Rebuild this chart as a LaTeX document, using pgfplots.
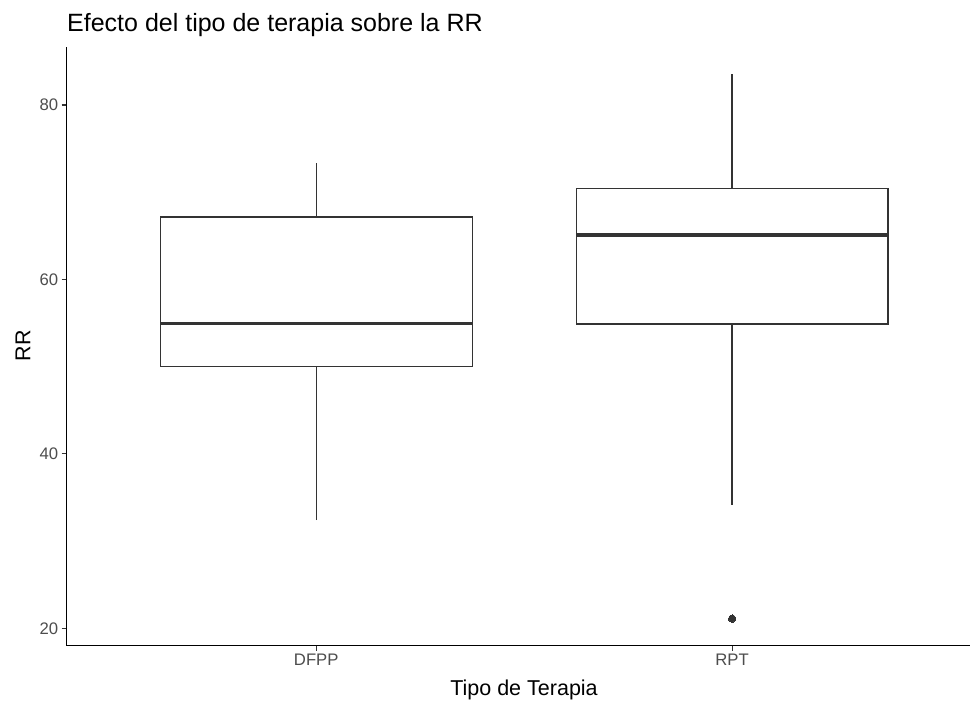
\documentclass[border=0pt]{standalone}
\usepackage{fontspec}
\setmainfont{Liberation Sans}
\usepackage{pgfplots}
\pgfplotsset{compat=1.18}
\definecolor{gtwenty}{HTML}{333333}
\definecolor{gthirty}{HTML}{4D4D4D}
\begin{document}
\begin{tikzpicture}
\useasboundingbox (0bp,0bp) rectangle (970bp,702bp);
\begin{axis}[
  at={(66.7bp,56.3bp)}, anchor=south west,
  scale only axis, width=903.3bp, height=598.7bp,
  xmin=0.4, xmax=2.572, ymin=18.0, ymax=86.65,
  axis x line*=bottom, axis y line*=left,
  xtick={1,2}, xticklabels={DFPP,RPT},
  ytick={20,40,60,80},
  tick align=outside, major tick length=5bp,
  tick style={gtwenty, line width=1.2bp},
  axis line style={black, line width=1.4bp},
  ticklabel style={font=\fontsize{16.7bp}{20bp}\selectfont, text=gthirty},
  /pgf/number format/assume math mode=true,
  clip=false,
]
% DFPP
\addplot[gtwenty, line width=1.3bp, mark=none] coordinates {(1,67.14) (1,73.3)};
\addplot[gtwenty, line width=1.3bp, mark=none] coordinates {(1,32.4) (1,50.0)};
\addplot[gtwenty, line width=1.3bp, mark=none, fill=white] coordinates {(0.625,50.0) (1.375,50.0) (1.375,67.14) (0.625,67.14)} -- cycle;
\addplot[gtwenty, line width=3.2bp, mark=none] coordinates {(0.625,54.96) (1.375,54.96)};
% RPT
\addplot[gtwenty, line width=1.3bp, mark=none] coordinates {(2,70.4) (2,83.55)};
\addplot[gtwenty, line width=1.3bp, mark=none] coordinates {(2,34.15) (2,54.9)};
\addplot[gtwenty, line width=1.3bp, mark=none, fill=white] coordinates {(1.625,54.9) (2.375,54.9) (2.375,70.4) (1.625,70.4)} -- cycle;
\addplot[gtwenty, line width=3.2bp, mark=none] coordinates {(1.625,65.1) (2.375,65.1)};
% outlier
\addplot[only marks, mark=*, mark size=3.7bp, mark options={fill=gtwenty, draw=gtwenty, line width=0pt}] coordinates {(2,21.1)};
\end{axis}
\node[anchor=base west, inner sep=0pt, font=\fontsize{25bp}{30bp}\selectfont] at (67bp,670bp) {Efecto del tipo de terapia sobre la RR};
\node[anchor=base, inner sep=0pt, font=\fontsize{21.5bp}{26bp}\selectfont] at (524bp,7bp) {Tipo de Terapia};
\node[anchor=center, rotate=90, inner sep=0pt, font=\fontsize{21.5bp}{26bp}\selectfont] at (23bp,356bp) {RR};
\end{tikzpicture}
\end{document}
